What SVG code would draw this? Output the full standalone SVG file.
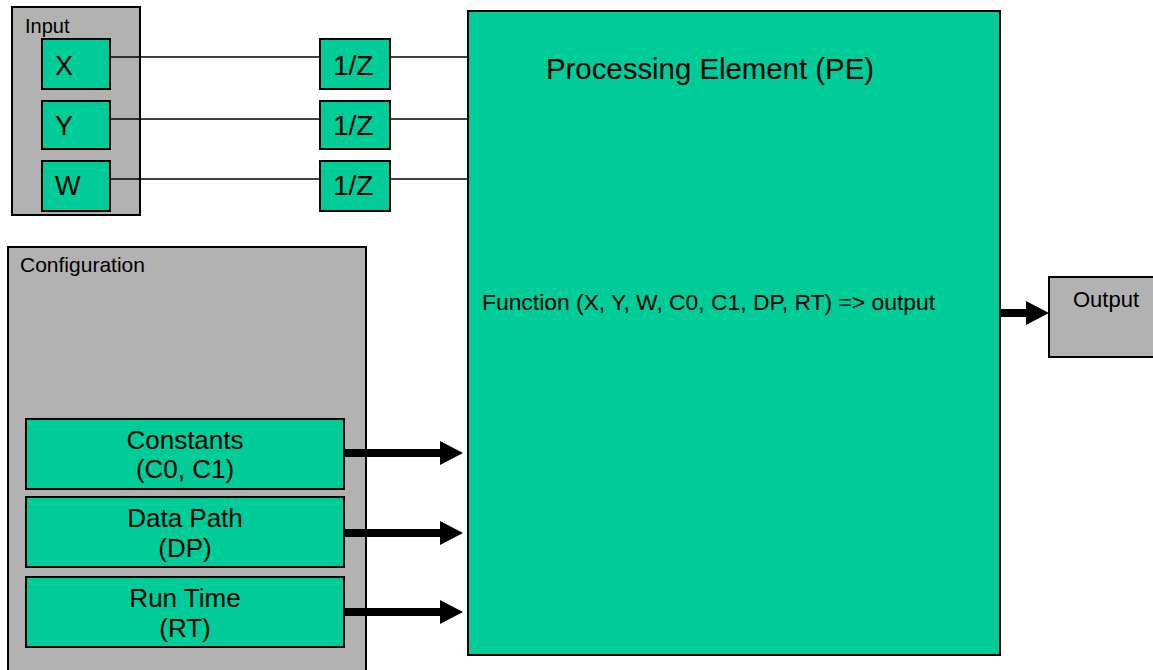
<svg xmlns="http://www.w3.org/2000/svg" width="1153" height="670" viewBox="0 0 1153 670">
<defs>
<style>
.g{fill:#00CC99;stroke:#000;stroke-width:2}
.gr{fill:#B2B2B2;stroke:#000;stroke-width:2}
text{font-family:"Liberation Sans",Arial,sans-serif;fill:#000}
.thin{stroke:#000;stroke-width:1.5;fill:none}
.thick{stroke:#000;stroke-width:8;fill:none}
</style>
</defs>
<rect width="1153" height="670" fill="#fff"/>
<g id="input">
<rect class="gr" x="12" y="7" width="128" height="208"/>
<text x="25" y="33" font-size="20">Input</text>
</g>
<g id="config">
<rect class="gr" x="8" y="247" width="358" height="440"/>
<text x="20" y="272" font-size="21">Configuration</text>
</g>
<g id="pe">
<rect class="g" x="468" y="11" width="532" height="644"/>
<text x="546" y="79" font-size="29" textLength="328" lengthAdjust="spacingAndGlyphs">Processing Element (PE)</text>
<text x="482" y="310" font-size="22.4" textLength="453" lengthAdjust="spacingAndGlyphs">Function (X, Y, W, C0, C1, DP, RT) =&gt; output</text>
</g>
<g id="output">
<rect class="gr" x="1049" y="277" width="106" height="80"/>
<text x="1073" y="307" font-size="22">Output</text>
</g>
<g id="connectors">
<line class="thin" x1="110" y1="57" x2="320" y2="57"/>
<line class="thin" x1="110" y1="119" x2="320" y2="119"/>
<line class="thin" x1="110" y1="179" x2="320" y2="179"/>
<line class="thin" x1="390" y1="57" x2="468" y2="57"/>
<line class="thin" x1="390" y1="119" x2="468" y2="119"/>
<line class="thin" x1="390" y1="179" x2="468" y2="179"/>
<line class="thick" x1="344" y1="453" x2="442" y2="453"/>
<polygon points="440,441 463,453 440,465"/>
<line class="thick" x1="344" y1="533" x2="442" y2="533"/>
<polygon points="440,521 463,533 440,545"/>
<line class="thick" x1="344" y1="612" x2="442" y2="612"/>
<polygon points="440,600 463,612 440,624"/>
<line class="thick" x1="1000" y1="313" x2="1028" y2="313"/>
<polygon points="1026,301 1049,313 1026,325"/>
</g>
<g id="x"><rect class="g" x="42" y="39" width="68" height="50"/><text x="55" y="75" font-size="27">X</text></g>
<g id="y"><rect class="g" x="42" y="101" width="68" height="48"/><text x="55" y="135" font-size="27">Y</text></g>
<g id="w"><rect class="g" x="42" y="161" width="68" height="50"/><text x="55" y="195" font-size="27">W</text></g>
<g id="z1"><rect class="g" x="320" y="39" width="70" height="50"/><text x="333" y="75" font-size="28">1/Z</text></g>
<g id="z2"><rect class="g" x="320" y="101" width="70" height="48"/><text x="333" y="135" font-size="28">1/Z</text></g>
<g id="z3"><rect class="g" x="320" y="161" width="70" height="50"/><text x="333" y="195" font-size="28">1/Z</text></g>
<g id="constants"><rect class="g" x="26" y="419" width="318" height="70"/>
<text x="185" y="449" font-size="26" text-anchor="middle">Constants</text>
<text x="185" y="478" font-size="26" text-anchor="middle">(C0, C1)</text></g>
<g id="datapath"><rect class="g" x="26" y="497" width="318" height="70"/>
<text x="185" y="527" font-size="26" text-anchor="middle">Data Path</text>
<text x="185" y="557" font-size="26" text-anchor="middle">(DP)</text></g>
<g id="runtime"><rect class="g" x="26" y="577" width="318" height="70"/>
<text x="185" y="607" font-size="26" text-anchor="middle">Run Time</text>
<text x="185" y="637" font-size="26" text-anchor="middle">(RT)</text></g>
</svg>
